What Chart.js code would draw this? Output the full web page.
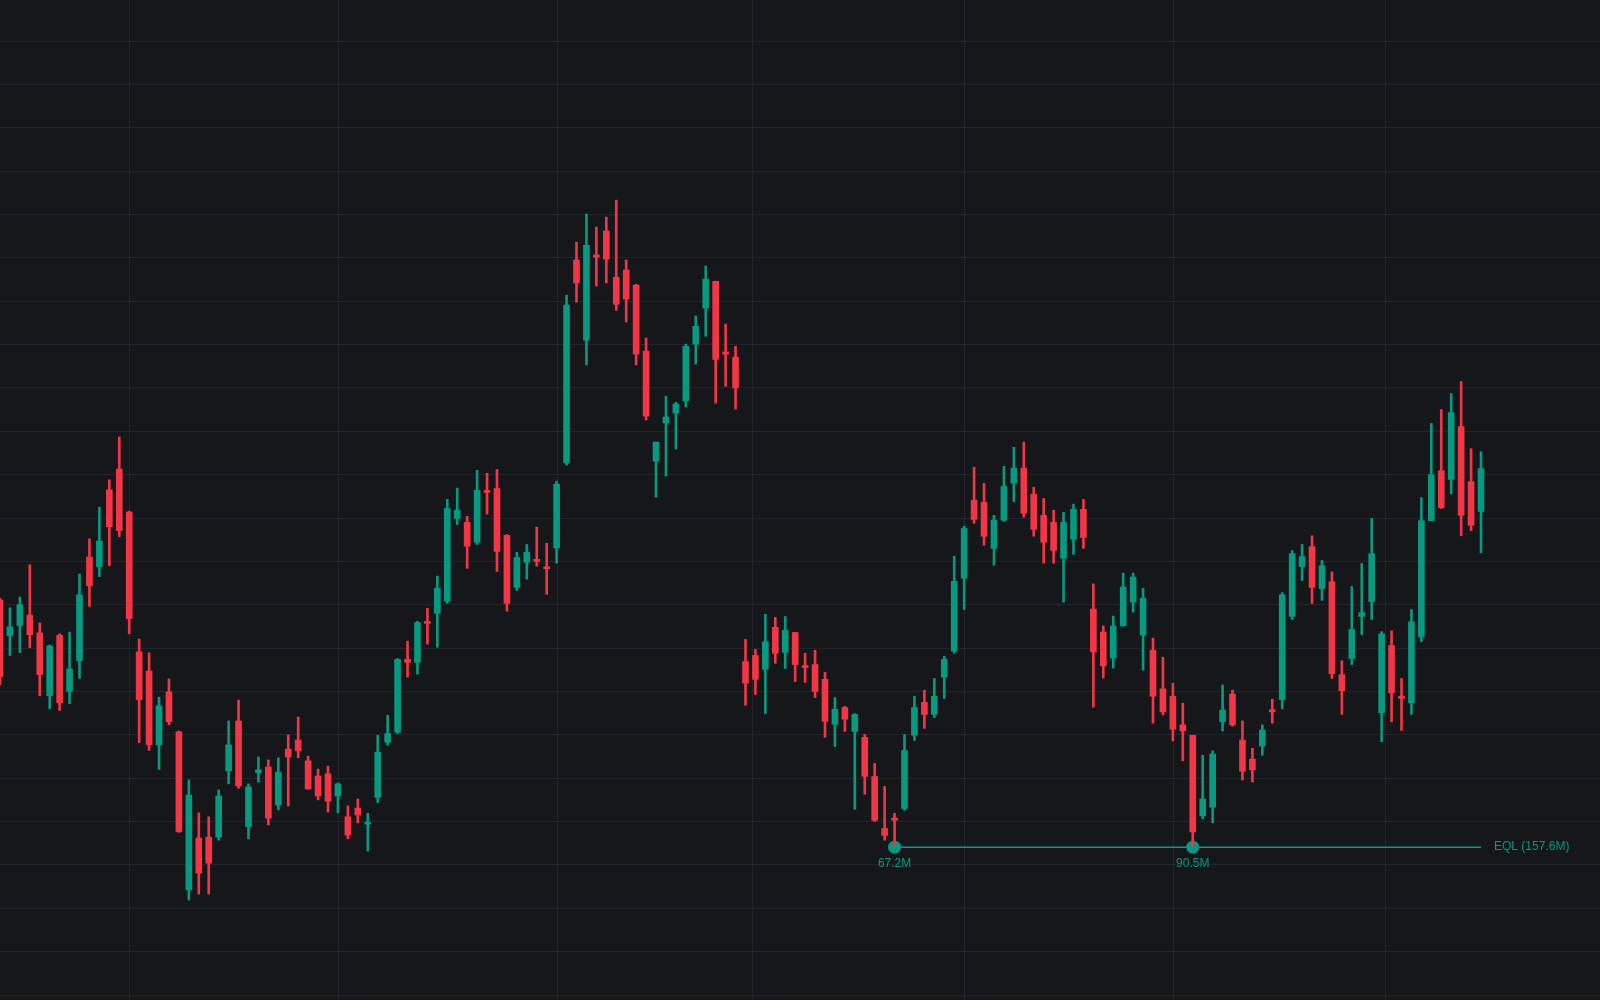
<!DOCTYPE html>
<html lang="de">
<head>
<meta charset="utf-8">
<title>Candlestick EQL</title>
<script src="https://cdn.jsdelivr.net/npm/chart.js@4.4.1/dist/chart.umd.min.js"></script>
<style>
  html, body { margin: 0; padding: 0; background: #16171b; overflow: hidden; }
  #wrap { width: 1600px; height: 1000px; }
</style>
</head>
<body>
<div id="wrap"><canvas id="candleChart" width="1600" height="1000"></canvas></div>
<script>
// Kursdaten (OHLC), Index = Kerze
const opens = [
    109.11, 108.29, 108.52, 108.76, 108.35, 106.90, 108.30, 107.00, 107.71, 110.10,
    109.88, 111.65, 112.13, 111.14, 107.91, 107.47, 105.77, 106.99, 106.07, 102.42,
    103.62, 103.64, 103.64, 105.17, 106.32, 103.88, 105.13, 105.26, 104.38, 105.67,
    105.88, 105.40, 105.05, 105.10, 104.59, 104.11, 104.31, 103.94, 104.56, 105.83,
    106.06, 107.74, 107.67, 108.59, 108.80, 109.08, 110.99, 110.90, 110.44, 111.62,
    111.68, 110.60, 109.40, 109.98, 110.02, 109.86, 110.31, 112.27, 116.95, 115.10,
    117.04, 117.62, 116.55, 116.72, 116.37, 114.85, 112.31, 113.19, 113.42, 113.70,
    115.01, 115.84, 116.46, 114.83, 114.71, 107.69, 107.83, 107.51, 108.48, 107.90,
    108.36, 107.58, 107.62, 107.28, 106.24, 106.63, 106.08, 105.94, 105.04, 103.84,
    104.08, 104.30, 105.99, 106.75, 106.47, 107.33, 107.93, 109.61, 111.41, 111.36,
    110.30, 110.95, 111.80, 112.15, 111.55, 111.06, 110.90, 110.07, 110.51, 111.20,
    108.90, 108.37, 107.77, 108.51, 109.06, 108.30, 107.95, 107.06, 106.89, 106.23,
    105.99, 104.13, 104.33, 106.30, 106.94, 105.88, 105.44, 105.74, 106.56, 106.81,
    108.73, 109.88, 110.34, 109.37, 109.53, 107.39, 107.76, 108.73, 109.07, 106.51,
    108.06, 106.87, 106.74, 108.26, 110.94, 112.09, 111.89, 113.11, 111.84, 111.15
];
const highs = [
    109.15, 108.93, 109.18, 109.92, 108.58, 108.07, 108.33, 108.37, 109.71, 110.52,
    111.25, 111.88, 112.87, 111.16, 108.21, 107.89, 106.87, 107.29, 106.09, 104.96,
    104.20, 104.11, 104.73, 106.32, 106.80, 104.87, 105.49, 105.42, 105.47, 106.00,
    106.41, 105.51, 105.21, 105.28, 104.89, 104.36, 104.52, 104.19, 105.99, 106.45,
    107.76, 108.16, 108.62, 108.92, 109.66, 111.43, 111.69, 111.04, 112.10, 112.03,
    112.12, 110.62, 110.21, 110.39, 110.79, 110.42, 111.85, 116.14, 117.36, 118.01,
    117.71, 117.94, 118.33, 116.95, 116.39, 115.15, 112.75, 113.81, 113.67, 115.01,
    115.66, 116.81, 116.46, 115.47, 114.96, 108.20, 107.97, 108.78, 108.71, 108.73,
    108.36, 107.88, 107.95, 107.44, 106.86, 106.66, 106.49, 106.01, 105.34, 104.81,
    104.19, 106.01, 106.89, 107.03, 107.30, 107.81, 110.12, 110.81, 112.17, 111.80,
    111.06, 112.19, 112.63, 112.75, 111.71, 111.45, 111.18, 111.13, 111.32, 111.43,
    109.48, 108.51, 108.74, 109.73, 109.73, 109.38, 108.23, 107.79, 107.19, 106.73,
    105.99, 105.53, 105.63, 107.15, 107.03, 106.32, 105.69, 106.23, 106.82, 109.28,
    110.25, 110.39, 110.59, 110.02, 109.76, 107.71, 109.42, 109.95, 110.99, 108.38,
    108.40, 107.30, 108.89, 111.47, 113.18, 113.50, 113.87, 114.15, 112.60, 112.53
];
const lows = [
    107.15, 107.83, 107.90, 108.01, 106.90, 106.60, 106.56, 106.72, 107.30, 108.96,
    109.65, 109.90, 110.57, 108.33, 105.82, 105.64, 105.20, 106.23, 103.75, 102.19,
    102.33, 102.33, 103.57, 104.87, 104.77, 103.60, 104.91, 103.92, 104.27, 104.36,
    105.47, 104.75, 104.50, 104.22, 104.20, 103.60, 103.97, 103.32, 104.44, 105.76,
    106.03, 107.33, 107.40, 108.09, 108.02, 109.03, 110.85, 109.84, 110.39, 111.09,
    109.77, 108.85, 109.33, 109.59, 109.89, 109.24, 109.96, 112.22, 115.98, 114.53,
    116.35, 116.42, 115.79, 115.52, 114.53, 113.26, 111.48, 111.97, 112.59, 113.56,
    114.55, 115.19, 113.65, 114.04, 113.51, 106.68, 106.93, 106.49, 107.65, 107.53,
    107.23, 107.21, 106.86, 105.94, 105.73, 106.08, 104.28, 104.63, 104.00, 103.57,
    103.41, 104.26, 105.87, 106.15, 106.40, 106.84, 107.88, 108.89, 110.88, 110.37,
    109.91, 110.92, 111.38, 111.02, 110.58, 109.96, 109.96, 109.06, 110.16, 110.30,
    106.64, 107.31, 107.54, 108.51, 108.83, 107.49, 106.27, 106.46, 105.86, 105.40,
    103.41, 104.06, 103.97, 106.09, 106.20, 104.96, 104.91, 105.53, 106.27, 106.60,
    108.66, 109.56, 109.03, 109.10, 107.30, 106.47, 107.62, 108.31, 108.66, 105.84,
    106.30, 106.10, 106.47, 108.15, 110.94, 111.22, 111.56, 110.59, 110.71, 110.20
];
const closes = [
    107.34, 108.49, 109.00, 108.31, 107.39, 108.05, 106.74, 107.52, 109.23, 109.44,
    110.47, 110.80, 110.71, 108.68, 106.81, 105.77, 106.67, 106.30, 103.77, 104.61,
    102.81, 103.04, 104.59, 105.77, 104.82, 104.80, 105.19, 104.08, 105.14, 105.49,
    105.63, 104.75, 104.59, 104.47, 104.87, 103.69, 104.15, 103.96, 105.60, 106.03,
    107.74, 107.67, 108.59, 108.57, 109.38, 111.22, 111.18, 110.35, 111.64, 111.59,
    110.23, 109.03, 110.09, 110.21, 110.00, 109.83, 111.78, 115.91, 116.42, 117.29,
    117.02, 116.97, 115.93, 116.05, 114.78, 113.35, 112.75, 113.33, 113.63, 114.96,
    115.42, 116.51, 114.66, 114.78, 114.00, 107.19, 107.28, 108.15, 107.88, 108.41,
    107.62, 107.55, 107.00, 106.31, 106.59, 106.36, 106.47, 105.04, 104.03, 103.68,
    104.03, 105.64, 106.63, 106.47, 106.89, 107.74, 109.54, 110.76, 110.97, 110.58,
    110.95, 111.73, 112.15, 111.11, 110.74, 110.44, 110.25, 110.90, 111.20, 110.55,
    107.91, 107.59, 108.51, 109.41, 109.64, 109.15, 106.89, 106.53, 106.13, 106.09,
    103.76, 104.52, 105.56, 106.57, 106.23, 105.16, 105.19, 106.11, 106.53, 109.23,
    110.18, 110.11, 109.40, 109.90, 107.41, 107.02, 108.43, 108.82, 110.18, 108.33,
    106.97, 106.84, 108.61, 110.94, 112.00, 111.24, 113.43, 111.06, 110.83, 112.14
];

// Gitterlinien (Werte auf den Achsen, ohne Beschriftung)
const xGridTicks = [13.0, 34.03, 56.07, 75.68, 97.0, 118.08, 139.37];
const yGridTicks = [100, 101, 102, 103, 104, 105, 106, 107, 108, 109, 110, 111,
                    112, 113, 114, 115, 116, 117, 118, 119, 120, 121, 122];

// Equal Lows (EQL)
const eqlLevel = 103.41;
const eqlIndices = [90, 120];
const eqlVolumes = ["67.2M", "90.5M"];
const eqlEnd = 149;
const eqlTag = "EQL (157.6M)";

const UP_COLOR = "#089981";
const DOWN_COLOR = "#f23645";
const GRID_COLOR = "#24252a";

function candleColor(ctx) {
    const i = ctx.dataIndex;
    return closes[i] >= opens[i] ? UP_COLOR : DOWN_COLOR;
}

// Beschriftungen der EQL-Punkte zeichnen
const eqlLabelPlugin = {
    id: "eqlLabels",
    afterDatasetsDraw(chart) {
        const { ctx, scales: { x, y } } = chart;
        const yPix = y.getPixelForValue(eqlLevel);
        ctx.save();
        ctx.font = '12px "Liberation Sans", Arial, sans-serif';
        ctx.fillStyle = UP_COLOR;
        ctx.textBaseline = "middle";
        ctx.textAlign = "center";
        eqlIndices.forEach((idx, k) => {
            ctx.fillText(eqlVolumes[k], x.getPixelForValue(idx), yPix + 17);
        });
        ctx.textAlign = "left";
        ctx.fillText(eqlTag, x.getPixelForValue(eqlEnd) + 13, yPix);
        ctx.restore();
    }
};

function initChart() {
    const canvas = document.getElementById("candleChart");
    const ctx = canvas.getContext("2d");

    const bodies = opens.map((o, i) => ({ x: i, y: [o, closes[i]] }));
    const wicks = lows.map((l, i) => ({ x: i, y: [l, highs[i]] }));

    new Chart(ctx, {
        type: "bar",
        data: {
            datasets: [
                {
                    label: "Körper",
                    data: bodies,
                    backgroundColor: candleColor,
                    barThickness: 6,
                    minBarLength: 2,
                    grouped: false,
                    borderWidth: 0,
                    order: 1
                },
                {
                    label: "Docht",
                    data: wicks,
                    backgroundColor: candleColor,
                    barThickness: 2,
                    grouped: false,
                    borderWidth: 0,
                    order: 2
                },
                {
                    type: "line",
                    label: "EQL-Punkte",
                    data: eqlIndices.map(idx => ({ x: idx, y: eqlLevel })),
                    showLine: false,
                    pointRadius: 6.5,
                    pointBackgroundColor: UP_COLOR,
                    pointBorderWidth: 0,
                    order: 3
                },
                {
                    type: "line",
                    label: "EQL",
                    data: [{ x: eqlIndices[0], y: eqlLevel }, { x: eqlEnd, y: eqlLevel }],
                    borderColor: UP_COLOR,
                    borderWidth: 1.5,
                    pointRadius: 0,
                    order: 4
                }
            ]
        },
        options: {
            responsive: false,
            animation: false,
            devicePixelRatio: 1,
            layout: { padding: 0, autoPadding: false },
            plugins: {
                legend: { display: false },
                tooltip: { enabled: false }
            },
            scales: {
                x: {
                    type: "linear",
                    min: 0,
                    max: 160.97,
                    offset: false,
                    afterBuildTicks: axis => { axis.ticks = xGridTicks.map(v => ({ value: v })); },
                    ticks: { display: false },
                    border: { display: false },
                    grid: { color: GRID_COLOR, lineWidth: 1, drawTicks: false, offset: false }
                },
                y: {
                    type: "linear",
                    min: 99.885,
                    max: 122.946,
                    beginAtZero: false,
                    afterBuildTicks: axis => { axis.ticks = yGridTicks.map(v => ({ value: v })); },
                    ticks: { display: false },
                    border: { display: false },
                    grid: { color: GRID_COLOR, lineWidth: 1, drawTicks: false }
                }
            }
        },
        plugins: [eqlLabelPlugin]
    });
}

if (document.readyState === "loading") {
    document.addEventListener("DOMContentLoaded", initChart);
} else {
    initChart();
}
</script>
</body>
</html>
